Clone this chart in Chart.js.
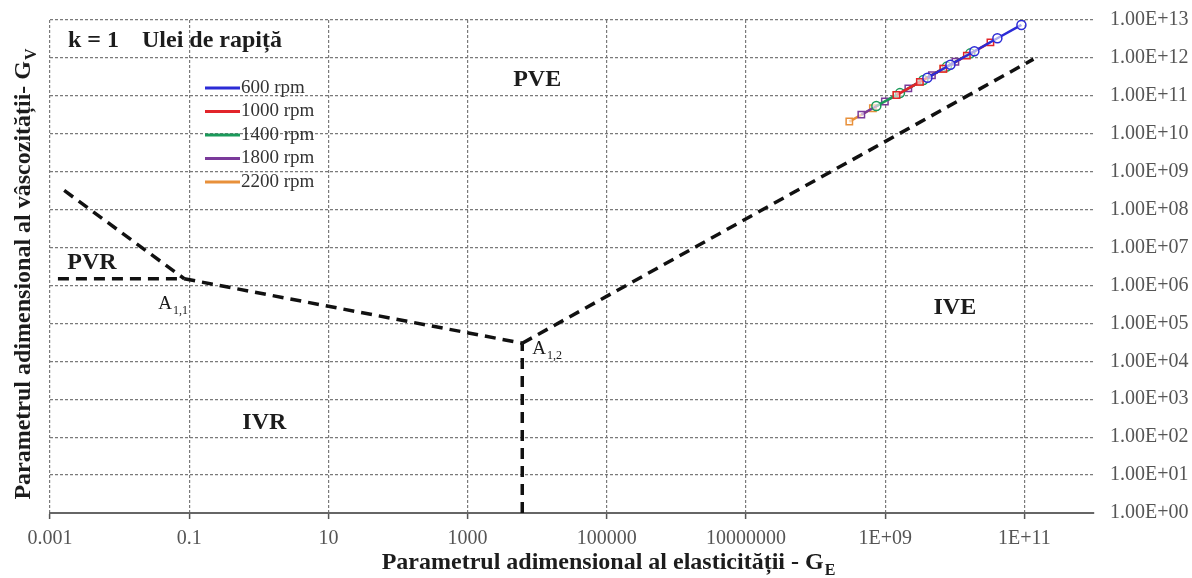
<!DOCTYPE html>
<html lang="ro">
<head>
<meta charset="UTF-8">
<title>Regimuri de ungere - ulei de rapiță</title>
<style>
  body { margin: 0; background: #ffffff; }
  .wrap { width: 1192px; height: 578px; position: relative; }
</style>
</head>
<body>
<div class="wrap"><canvas id="regimeChart"></canvas></div>

<script src="https://cdn.jsdelivr.net/npm/chart.js"></script>
<script>
// axis ticks (log-log map GE / GV)
const xTickValues = [0.001, 0.1, 10, 1000, 1e5, 1e7, 1e9, 1e11];
const xTickLabels = ["0.001", "0.1", "10", "1000", "100000", "10000000", "1E+09", "1E+11"];
const yTickValues = [1, 1e1, 1e2, 1e3, 1e4, 1e5, 1e6, 1e7, 1e8, 1e9, 1e10, 1e11, 1e12, 1e13];
const yTickLabels = ["1.00E+00", "1.00E+01", "1.00E+02", "1.00E+03", "1.00E+04", "1.00E+05", "1.00E+06",
                     "1.00E+07", "1.00E+08", "1.00E+09", "1.00E+10", "1.00E+11", "1.00E+12", "1.00E+13"];

// measured points per speed
const speeds = ["600 rpm", "1000 rpm", "1400 rpm", "1800 rpm", "2200 rpm"];
const ge600 = [4.04e9, 8.65e9, 1.91e10, 4.09e10, 9.06e10];
const gv600 = [3.0e11, 6.6e11, 1.5e12, 3.3e12, 7.4e12];
const ge1000 = [1.45e9, 3.15e9, 6.85e9, 1.49e10, 3.25e10];
const gv1000 = [1.05e11, 2.34e11, 5.2e11, 1.15e12, 2.57e12];
const ge1400 = [7.46e8, 1.63e9, 3.54e9, 7.69e9, 1.67e10];
const gv1400 = [5.4e10, 1.18e11, 2.63e11, 5.9e11, 1.32e12];
const ge1800 = [4.54e8, 9.89e8, 2.15e9, 4.69e9, 1.02e10];
const gv1800 = [3.2e10, 7.1e10, 1.58e11, 3.5e11, 7.9e11];
const ge2200 = [3.05e8, 6.65e8, 1.45e9, 3.15e9, 6.85e9];
const gv2200 = [2.1e10, 4.7e10, 1.05e11, 2.34e11, 5.2e11];

// regime boundaries (GE, GV)
const pointA11 = [0.085, 1.5e6];
const pointA12 = [6100, 3.0e4];
const boundPVR = [[0.0013, 1.5e6], pointA11];
const boundPVRtop = [[0.0016, 3.2e8], pointA11];
const boundIVR = [pointA11, pointA12];
const boundIVE = [pointA12, [1.35e11, 9.3e11]];
const boundDown = [[6100, 1], pointA12];

const seriesColors = ["#2b2bd6", "#e2242a", "#1a9a5a", "#7a3a9a", "#e8903a"];
const seriesMarkers = ["circle", "rect", "circle", "rect", "rect"];
const serif = '"Liberation Serif", "Times New Roman", serif';

const toPoints = (xs, ys) => xs.map((x, i) => ({ x: x, y: ys[i] }));
const pairPoints = (pairs) => pairs.map(p => ({ x: p[0], y: p[1] }));

const measured = [[ge600, gv600], [ge1000, gv1000], [ge1400, gv1400], [ge1800, gv1800], [ge2200, gv2200]];

const datasets = measured.map((s, i) => ({
    label: speeds[i],
    data: toPoints(s[0], s[1]),
    showLine: true,
    borderColor: seriesColors[i],
    borderWidth: 2.5,
    pointStyle: seriesMarkers[i],
    pointRadius: 4.5,
    pointBorderWidth: 1.5,
    pointBorderColor: seriesColors[i],
    pointBackgroundColor: "rgba(255,255,255,0.6)"
}));

[boundPVR, boundPVRtop, boundIVR, boundIVE, boundDown].forEach(b => {
    datasets.push({
        label: "",
        data: pairPoints(b),
        showLine: true,
        borderColor: "#111",
        borderWidth: 3.5,
        borderDash: [11, 7],
        pointRadius: 0
    });
});

// draws text that carries a subscript, e.g. G with E below
function textWithSub(ctx, main, sub, x, y, size, weight, centered) {
    const mainFont = `${weight} ${size}px ${serif}`;
    const subFont = `${weight} ${Math.round(size * 0.65)}px ${serif}`;
    ctx.font = mainFont;
    const w1 = ctx.measureText(main).width;
    ctx.font = subFont;
    const w2 = ctx.measureText(sub).width;
    const x0 = centered ? x - (w1 + w2) / 2 : x;
    ctx.textAlign = "left";
    ctx.textBaseline = "alphabetic";
    ctx.font = mainFont;
    ctx.fillText(main, x0, y);
    ctx.font = subFont;
    ctx.fillText(sub, x0 + w1 + 1, y + size * 0.25);
}

const overlayText = {
    id: "overlayText",
    afterDraw(chart) {
        const { ctx, chartArea: a, scales: { x, y } } = chart;
        const px = v => x.getPixelForValue(v);
        const py = v => y.getPixelForValue(v);
        ctx.save();
        ctx.fillStyle = "#1c1c1c";

        // regime names
        ctx.font = `bold 24px ${serif}`;
        ctx.textAlign = "center";
        ctx.textBaseline = "middle";
        ctx.fillText("PVE", px(1e4), py(2.6e11));
        ctx.fillText("PVR", px(0.004), py(4e6));
        ctx.fillText("IVR", px(1.2), py(245));
        ctx.fillText("IVE", px(1.0e10), py(2.5e5));

        // transition points
        textWithSub(ctx, "A", "1,1", px(pointA11[0]) - 26, py(pointA11[1]) + 30, 19, "normal", false);
        textWithSub(ctx, "A", "1,2", px(pointA12[0]) + 10, py(pointA12[1]) + 11, 19, "normal", false);

        // heading
        ctx.font = `bold 24px ${serif}`;
        ctx.textAlign = "left";
        ctx.textBaseline = "alphabetic";
        ctx.fillText("k = 1", a.left + 18, a.top + 27);
        ctx.fillText("Ulei de rapiță", a.left + 92, a.top + 27);

        // legend
        ctx.font = `19px ${serif}`;
        ctx.textBaseline = "middle";
        speeds.forEach((label, i) => {
            const ly = a.top + 68 + i * 23.5;
            ctx.strokeStyle = seriesColors[i];
            ctx.lineWidth = 3;
            ctx.beginPath();
            ctx.moveTo(a.left + 155, ly);
            ctx.lineTo(a.left + 190, ly);
            ctx.stroke();
            ctx.fillStyle = "#333";
            ctx.fillText(label, a.left + 191, ly);
        });

        // axis titles
        ctx.fillStyle = "#1c1c1c";
        textWithSub(ctx, "Parametrul adimensional al elasticității - G", "E",
            (a.left + a.right) / 2 + 36, 569, 24, "bold", true);
        ctx.translate(30, (a.top + a.bottom) / 2 + 8);
        ctx.rotate(-Math.PI / 2);
        textWithSub(ctx, "Parametrul adimensional al vâscozității- G", "V", 0, 0, 24, "bold", true);
        ctx.restore();
    }
};

new Chart(document.getElementById("regimeChart"), {
    type: "scatter",
    data: { datasets: datasets },
    options: {
        responsive: true,
        maintainAspectRatio: false,
        animation: false,
        layout: { padding: { left: 50, right: 0, top: 20, bottom: 19 } },
        plugins: {
            legend: { display: false },
            tooltip: { enabled: false }
        },
        scales: {
            x: {
                type: "logarithmic",
                position: "bottom",
                min: 0.001,
                max: 1e12,
                afterBuildTicks: s => { s.ticks = xTickValues.map(v => ({ value: v })); },
                ticks: {
                    autoSkip: false,
                    maxRotation: 0,
                    padding: 8,
                    color: "#555",
                    font: { family: serif, size: 20 },
                    callback: (v, i) => xTickLabels[i]
                },
                grid: { color: "#7a7a7a", lineWidth: 1.2, tickLength: 6, tickColor: "#555", tickWidth: 1.5 },
                border: { display: true, color: "#666", width: 2, dash: [3, 2] }
            },
            y: {
                type: "logarithmic",
                position: "right",
                min: 1,
                max: 1e13,
                afterBuildTicks: s => { s.ticks = yTickValues.map(v => ({ value: v })); },
                afterFit: s => { s.width = 98; },
                ticks: {
                    autoSkip: false,
                    padding: 0,
                    color: "#555",
                    font: { family: serif, size: 20 },
                    callback: (v, i) => yTickLabels[i]
                },
                // label gap comes from a blank tick mark so the top edge stays free
                grid: { color: "#7a7a7a", lineWidth: 1.2, drawTicks: true, tickLength: 16, tickColor: "rgba(0,0,0,0)" },
                border: { display: false, dash: [3, 2] }
            }
        }
    },
    plugins: [overlayText]
});
</script>
</body>
</html>
